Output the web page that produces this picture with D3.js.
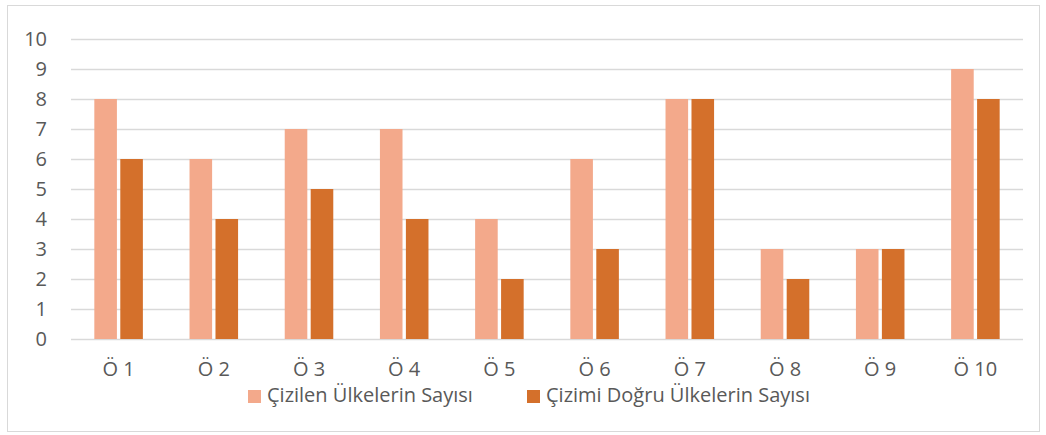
<!DOCTYPE html>
<html>
<head>
<meta charset="utf-8">
<script src="https://cdn.jsdelivr.net/npm/d3@7"></script>
<style>
  body { margin: 0; background: #fff; }
  text { font-family: "Open Sans", Lato, sans-serif; fill: #595959; }
</style>
</head>
<body>
<svg id="chart" width="1046" height="435"></svg>
<script>
const categories = ["Ö 1", "Ö 2", "Ö 3", "Ö 4", "Ö 5", "Ö 6", "Ö 7", "Ö 8", "Ö 9", "Ö 10"];
const seriesNames = ["Çizilen Ülkelerin Sayısı", "Çizimi Doğru Ülkelerin Sayısı"];
const drawn = [8, 6, 7, 7, 4, 6, 8, 3, 3, 9];
const correct = [6, 4, 5, 4, 2, 3, 8, 2, 3, 8];
const yTicks = [0, 1, 2, 3, 4, 5, 6, 7, 8, 9, 10];

const colors = ["#F3A98B", "#D4702B"];
const MARGIN = { LEFT: 71, RIGHT: 23, TOP: 39, BOTTOM: 96 };
const width = 1046, height = 435;
const FONT = "20px";

let svg = d3.select("#chart");

// outer frame
svg.append("rect")
  .attr("x", 7.5).attr("y", 5.5)
  .attr("width", 1032).attr("height", 426)
  .attr("fill", "#fff").attr("stroke", "#d9d9d9");

let x = d3.scaleBand()
  .domain(categories)
  .range([MARGIN.LEFT, width - MARGIN.RIGHT]);

let x1 = d3.scaleBand()
  .domain([0, 1])
  .range([x.bandwidth() * 0.245, x.bandwidth() * 0.755])
  .paddingInner(0.13);

let y = d3.scaleLinear()
  .domain([0, 10])
  .range([height - MARGIN.BOTTOM, MARGIN.TOP]);

// gridlines
svg.append("g").selectAll("line")
  .data(yTicks)
  .enter().append("line")
  .attr("x1", MARGIN.LEFT).attr("x2", width - MARGIN.RIGHT)
  .attr("y1", d => Math.round(y(d)) + 0.5).attr("y2", d => Math.round(y(d)) + 0.5)
  .attr("stroke", "#d9d9d9").attr("stroke-width", 1.3);

// y labels
svg.append("g").selectAll("text")
  .data(yTicks)
  .enter().append("text")
  .attr("x", 47).attr("y", d => y(d))
  .attr("dy", "0.35em")
  .attr("text-anchor", "end")
  .attr("font-size", FONT)
  .text(d => d);

// bars
let groups = svg.append("g").selectAll("g")
  .data(categories)
  .enter().append("g")
  .attr("transform", d => "translate(" + x(d) + ",0)");

groups.selectAll("rect")
  .data((d, i) => [drawn[i], correct[i]])
  .enter().append("rect")
  .attr("x", (d, j) => x1(j))
  .attr("width", x1.bandwidth())
  .attr("y", d => y(d))
  .attr("height", d => y(0) - y(d))
  .attr("fill", (d, j) => colors[j]);

// x labels
svg.append("g").selectAll("text")
  .data(categories)
  .enter().append("text")
  .attr("x", d => x(d) + x.bandwidth() / 2)
  .attr("y", 376)
  .attr("text-anchor", "middle")
  .attr("font-size", FONT)
  .text(d => d);

// legend
const legendX = [248, 527];
seriesNames.forEach((name, i) => {
  svg.append("rect")
    .attr("x", legendX[i]).attr("y", 390)
    .attr("width", 13).attr("height", 13)
    .attr("fill", colors[i]);
  svg.append("text")
    .attr("x", legendX[i] + 19).attr("y", 402)
    .attr("font-size", FONT)
    .text(name);
});
</script>
</body>
</html>
